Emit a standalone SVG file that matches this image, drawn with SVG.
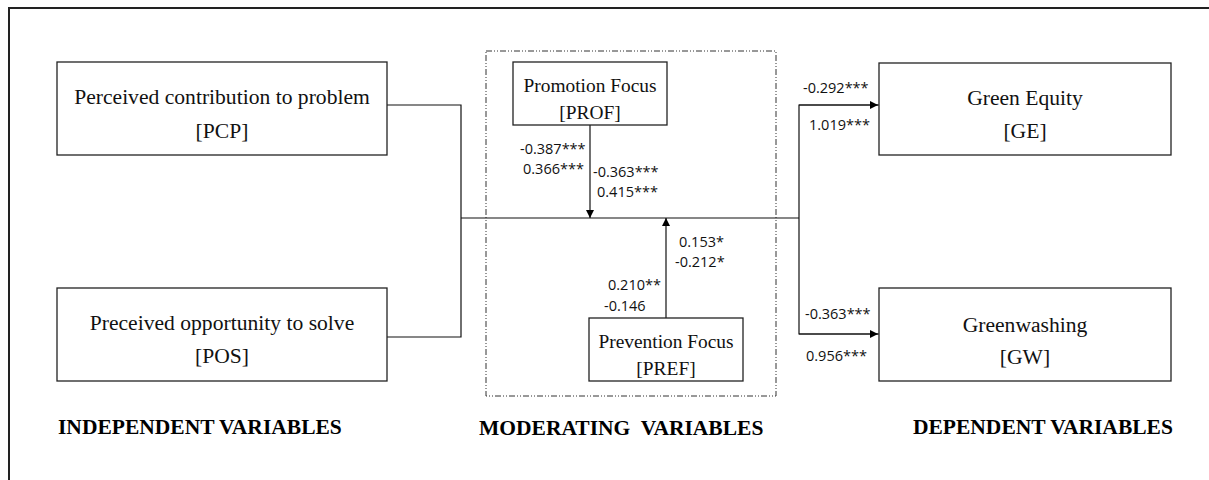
<svg xmlns="http://www.w3.org/2000/svg" width="1209" height="480" viewBox="0 0 1209 480">
<defs>
<marker id="ah" viewBox="0 0 10 10" refX="10" refY="5" markerWidth="8" markerHeight="8" markerUnits="userSpaceOnUse" orient="auto">
<path d="M0,0 L10,5 L0,10 z" fill="#000"/>
</marker>
<style>
.box{fill:#fff;stroke:#222;stroke-width:1.3}
.nt{font-family:"Liberation Serif","Times New Roman",serif;font-size:21.6px;fill:#111;text-anchor:middle}
.ms{font-size:19.4px}
.hd{font-family:"Liberation Serif","Times New Roman",serif;font-size:21.5px;font-weight:bold;fill:#000}
.lb{font-family:"Open Sans",Lato,sans-serif;font-size:14.5px;fill:#111}
.ln{fill:none;stroke:#111;stroke-width:1.2}
</style>
</defs>
<rect width="1209" height="480" fill="#fff"/>
<path d="M9,482 L9,8 L1211,8" fill="none" stroke="#222" stroke-width="2"/>
<rect x="486" y="51" width="290" height="345" fill="none" stroke="#333" stroke-width="1" stroke-dasharray="6 2 1 2 1 2"/>
<g id="connectors">
<polyline class="ln" points="387,105 461,105 461,337 387,337"/>
<line class="ln" x1="461" y1="218" x2="799" y2="218"/>
<polyline class="ln" points="879,105 799,105 799,334 879,334"/>
<line class="ln" x1="799" y1="105" x2="878" y2="105" marker-end="url(#ah)"/>
<line class="ln" x1="799" y1="334" x2="878" y2="334" marker-end="url(#ah)"/>
<line class="ln" x1="590" y1="125" x2="590" y2="218" marker-end="url(#ah)"/>
<line class="ln" x1="666" y1="318" x2="666" y2="218" marker-end="url(#ah)"/>
<text class="lb" x="520" y="154">-0.387***</text>
<text class="lb" x="523" y="174">0.366***</text>
<text class="lb" x="593" y="177">-0.363***</text>
<text class="lb" x="597" y="197">0.415***</text>
<text class="lb" x="679" y="247">0.153*</text>
<text class="lb" x="675" y="267">-0.212*</text>
<text class="lb" x="608" y="290">0.210**</text>
<text class="lb" x="604" y="311">-0.146</text>
<text class="lb" x="803" y="93">-0.292***</text>
<text class="lb" x="809" y="130">1.019***</text>
<text class="lb" x="805" y="319">-0.363***</text>
<text class="lb" x="806" y="361">0.956***</text>
</g>
<g id="pcp">
<rect class="box" x="57" y="62" width="330" height="93"/>
<text class="nt" x="222" y="104">Perceived contribution to problem</text>
<text class="nt" x="222" y="138">[PCP]</text>
</g>
<g id="pos">
<rect class="box" x="57" y="288" width="330" height="93"/>
<text class="nt" x="222" y="330">Preceived opportunity to solve</text>
<text class="nt" x="222" y="363">[POS]</text>
</g>
<g id="prof">
<rect class="box" x="513" y="62" width="154" height="63"/>
<text class="nt ms" x="590" y="92">Promotion Focus</text>
<text class="nt ms" x="590" y="119">[PROF]</text>
</g>
<g id="pref">
<rect class="box" x="589" y="318" width="154" height="63"/>
<text class="nt ms" x="666" y="348">Prevention Focus</text>
<text class="nt ms" x="666" y="375">[PREF]</text>
</g>
<g id="ge">
<rect class="box" x="879" y="63" width="292" height="92"/>
<text class="nt" x="1025" y="105">Green Equity</text>
<text class="nt" x="1025" y="138">[GE]</text>
</g>
<g id="gw">
<rect class="box" x="879" y="288" width="292" height="93"/>
<text class="nt" x="1025" y="332">Greenwashing</text>
<text class="nt" x="1025" y="364">[GW]</text>
</g>
<g id="headings">
<text class="hd" x="58" y="434">INDEPENDENT VARIABLES</text>
<text class="hd" x="479" y="435" xml:space="preserve">MODERATING  VARIABLES</text>
<text class="hd" x="913" y="434">DEPENDENT VARIABLES</text>
</g>
</svg>
